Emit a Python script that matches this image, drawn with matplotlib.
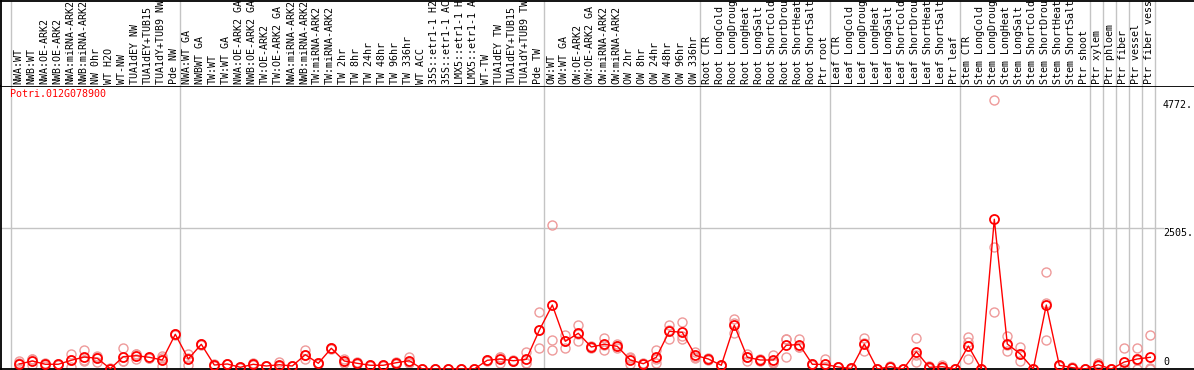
import numpy as np
import matplotlib
matplotlib.use("Agg")
import matplotlib.pyplot as plt

# ------------------------
# Data
# ------------------------
gene_id = "Potri.012G078900"

sample_labels = [
    "NWA:WT", "NWB:WT", "NWA:OE-ARK2", "NWB:OE-ARK2", "NWA:miRNA-ARK2", "NWB:miRNA-ARK2",
    "NW 0hr", "WT H2O", "WT-NW", "TUA1dEY NW", "TUA1dEY+TUB15", "TUA1dY+TUB9 NW", "Pde NW",
    "NWA:WT GA", "NWBWT GA", "TW:WT", "TW:WT GA", "NWA:OE-ARK2 GA", "NWB:OE-ARK2 GA",
    "TW:OE-ARK2", "TW:OE-ARK2 GA", "NWA:miRNA-ARK2", "NWB:miRNA-ARK2", "TW:miRNA-ARK2",
    "TW:miRNA-ARK2", "TW 2hr", "TW 8hr", "TW 24hr", "TW 48hr", "TW 96hr", "TW 336hr",
    "WT ACC", "35S::etr1-1 H2", "35S::etr1-1 AC", "LMX5::etr1-1 H", "LMX5::etr1-1 A",
    "WT-TW", "TUA1dEY TW", "TUA1dEY+TUB15", "TUA1dY+TUB9 TW", "Pde TW",
    "OW:WT", "OW:WT GA", "OW:OE-ARK2", "OW:OE-ARK2 GA", "OW:miRNA-ARK2", "OW:miRNA-ARK2",
    "OW 2hr", "OW 8hr", "OW 24hr", "OW 48hr", "OW 96hr", "OW 336hr",
    "Root CTR", "Root LongCold", "Root LongDroug", "Root LongHeat", "Root LongSalt",
    "Root ShortCold", "Root ShortDrou", "Root ShortHeat", "Root ShortSalt", "Ptr root",
    "Leaf CTR", "Leaf LongCold", "Leaf LongDroug", "Leaf LongHeat", "Leaf LongSalt",
    "Leaf ShortCold", "Leaf ShortDrou", "Leaf ShortHeat", "Leaf ShortSalt", "Ptr leaf",
    "Stem CTR", "Stem LongCold", "Stem LongDroug", "Stem LongHeat", "Stem LongSalt",
    "Stem ShortCold", "Stem ShortDrou", "Stem ShortHeat", "Stem ShortSalt", "Ptr shoot",
    "Ptr xylem", "Ptr phloem", "Ptr fiber", "Ptr vessel", "Ptr fiber vess",
]

mean_values = [
    89, 142, 84, 84, 155, 213, 190, 5, 219, 236, 208, 160, 617,
    178, 439, 71, 89, 30, 84, 53, 76, 53, 254, 101, 368, 142, 101, 66, 66, 112, 147,
    0, 0, 0, 0, 0, 155, 178, 147, 172, 688,
    1137, 492, 634, 391, 439, 403, 160, 94, 208, 670, 652, 243,
    178, 66, 777, 208, 160, 160, 421, 435, 84, 80,
    36, 9, 444, 0, 41, 0, 307, 30, 41, 0,
    409, 0, 2660, 444, 267, 0, 1137, 66, 23, 0,
    76, 0, 124, 178, 208,
]

rep_a = [
    101, 183, 95, 90, 267, 338, 208, 0, 368, 267, 220, 190, 630,
    267, 450, 85, 95, 35, 100, 60, 119, 60, 338, 115, 380, 178, 120, 75, 72, 130, 208,
    0, 0, 0, 0, 0, 165, 213, 160, 307, 1007,
    2559, 604, 782, 410, 556, 440, 208, 100, 338, 787, 835, 307,
    200, 70, 883, 261, 180, 249, 528, 528, 90, 183,
    40, 10, 545, 0, 45, 0, 545, 60, 70, 0,
    574, 0, 4772, 586, 396, 0, 1718, 75, 30, 0,
    101, 0, 368, 368, 604,
]

rep_b = [
    150, 66, 48, 75, 30, 136, 124, 10, 142, 183, 200, 53, 600,
    76, 430, 60, 80, 25, 70, 45, 50, 45, 172, 90, 355, 110, 85, 55, 60, 95, 120,
    0, 0, 0, 0, 0, 145, 107, 135, 101, 368,
    510, 379, 498, 375, 332, 368, 84, 88, 112, 538, 538, 200,
    160, 60, 634, 142, 145, 100, 208, 386, 78, 30,
    30, 8, 320, 0, 36, 0, 130, 15, 20, 0,
    172, 0, 2162, 320, 142, 0, 515, 55, 15, 0,
    60, 0, 0, 166, 20,
]

rep_c = [
    15, 175, 110, 88, 168, 165, 238, 5, 147, 258, 204, 237, 621,
    191, 437, 68, 92, 30, 82, 54, 59, 54, 252, 98, 369, 138, 98, 68, 66, 111, 113,
    0, 0, 0, 0, 0, 155, 214, 146, 110, 689,
    340, 493, 622, 388, 429, 401, 188, 94, 174, 685, 583, 222,
    174, 68, 814, 221, 155, 131, 527, 391, 84, 27,
    38, 9, 467, 0, 42, 0, 246, 15, 33, 0,
    481, 0, 1007, 426, 263, 0, 1178, 68, 24, 0,
    67, 0, 4, 0, 0,
]

group_breaks = [-0.5, 12.5, 40.5, 52.5, 62.5, 72.5, 82.5, 83.5, 84.5, 85.5, 86.5, 87.5]
ytick_values = [4772, 2505, 0]

# ------------------------
# Figure layout (pixel based)
# ------------------------
W, H = 1194, 370
fig = plt.figure(figsize=(W / 100, H / 100), dpi=100)

plot_top_px = 86
plot_bot_px = 369
ax = fig.add_axes([1 / W, (H - plot_bot_px) / H, (W - 1) / W, (plot_bot_px - plot_top_px) / H])
ax_lab = fig.add_axes([1 / W, (H - plot_top_px) / H, (W - 1) / W, (plot_top_px - 0.5) / H], sharex=ax)

x = np.arange(len(sample_labels))
px_per_unit = 13.0
x_left = -(19.3 - 1) / px_per_unit
x_right = x_left + (W - 1) / px_per_unit
ax.set_xlim(x_left, x_right)
ymax = 2505 * (plot_bot_px - plot_top_px) / (plot_bot_px - 228)
ax.set_ylim(0, ymax)

mono = "DejaVu Sans Mono"
grey = "#c4c4c4"

# group separators
for b in group_breaks:
    ax.axvline(b - 0.12, color=grey, lw=1, zorder=1)
    ax_lab.axvline(b - 0.12, color=grey, lw=1, zorder=1)

# horizontal grid line
ax.axhline(2505, xmin=0, xmax=(1163 - 1) / (W - 1), color=grey, lw=1, zorder=1)

# replicates
for reps in (rep_a, rep_b, rep_c):
    ax.plot(x, reps, linestyle="none", marker="o", ms=6.5, mfc="none",
            mec="#ee9a9a", mew=1.0, zorder=2)

# mean line
ax.plot(x, mean_values, color="red", lw=1, marker="o", ms=6.5, mfc="none",
        mec="red", mew=1.3, zorder=3)

ax.text(9 / W * (x_right - x_left) + x_left, 4772 + 120, gene_id, color="red",
        family=mono, fontsize=7.2, ha="left", va="center")

for v in ytick_values:
    yy = v - 80 if v > 0 else 120
    ax.text(x_left + (1163 - 1) / px_per_unit, yy, f"{v}." if v > 0 else "0",
            family=mono, fontsize=7.2, ha="left", va="center", color="black")

ax.set_xticks([])
ax.set_yticks([])
for side in ("top", "left", "bottom"):
    ax.spines[side].set_color("black")
    ax.spines[side].set_linewidth(1.3)
ax.spines["right"].set_visible(False)

# label panel
ax_lab.set_ylim(0, plot_top_px)
for i, lab in enumerate(sample_labels):
    ax_lab.text(i - 0.1, 2.5, lab, rotation=90, ha="center", va="bottom",
                family=mono, fontsize=7.2, color="black", clip_on=True)
ax_lab.set_xticks([])
ax_lab.set_yticks([])
ax_lab.spines["bottom"].set_visible(False)
ax_lab.spines["right"].set_visible(False)
ax_lab.spines["top"].set_linewidth(1.3)
ax_lab.spines["left"].set_linewidth(1.3)

fig.savefig("out.png", dpi=100)
